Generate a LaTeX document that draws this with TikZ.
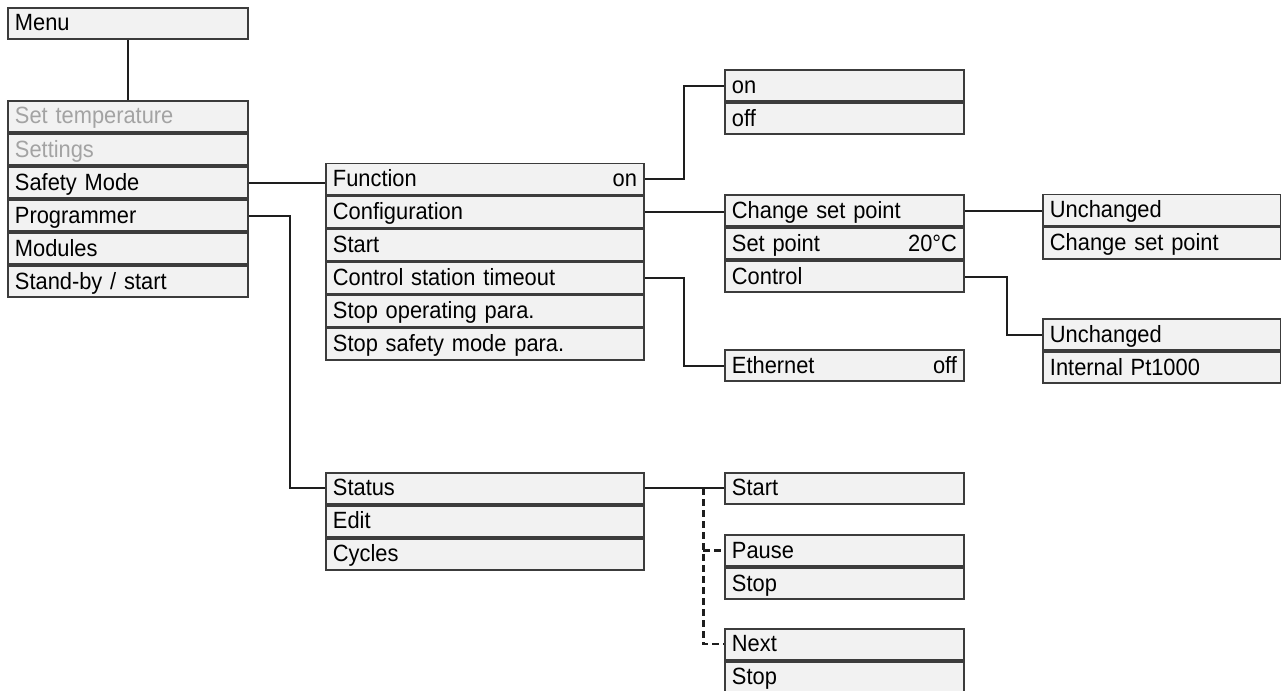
\documentclass[tikz,border=0pt]{standalone}
\usepackage{fontspec}
\setmainfont{Liberation Sans}[FakeStretch=0.93]
\usetikzlibrary{calc}
\definecolor{boxfill}{HTML}{F2F2F2}
\definecolor{boxline}{HTML}{3C3C3C}
\definecolor{dimtext}{HTML}{A3A3A3}
\definecolor{linkcol}{HTML}{1E1E1E}
\begin{document}
\begin{tikzpicture}[x=1pt,y=-1pt,
 row/.style={draw=boxline, line width=1.9pt, fill=boxfill, anchor=north west, inner xsep=7pt, inner ysep=0pt, minimum height=31.1pt, text height=18pt, text depth=3pt, align=left, font=\fontsize{23.5}{25}\selectfont},
 wA/.style={row, text width=226pt},
 wB/.style={row, text width=304pt},
 wC/.style={row, text width=225pt},
 wD/.style={row, text width=224pt},
 dim/.style={text=dimtext},
 link/.style={line width=2pt, linkcol},
 dlink/.style={link, line width=2.2pt, dash pattern=on 7pt off 4pt}]
\useasboundingbox (0,0) rectangle (1281,690);
% Menu
\node[wA] (menu) at (7,7) {Menu};
% Main menu
\node[wA, dim] (settemp) at (7,100) {Set temperature};
\node[wA, dim] (settings) at (settemp.south west) {Settings};
\node[wA] (safety) at (settings.south west) {Safety Mode};
\node[wA] (prog) at (safety.south west) {Programmer};
\node[wA] (modules) at (prog.south west) {Modules};
\node[wA] (standby) at (modules.south west) {Stand-by / start};
% Safety mode menu
\node[wB] (function) at (325,162.5) {Function\hfill on\hspace*{10pt}};
\node[wB] (config) at (function.south west) {Configuration};
\node[wB] (sstart) at (config.south west) {Start};
\node[wB] (timeout) at (sstart.south west) {Control station timeout};
\node[wB] (stopop) at (timeout.south west) {Stop operating para.};
\node[wB] (stopsafe) at (stopop.south west) {Stop safety mode para.};
% on / off
\node[wC] (on) at (724,69.3) {on};
\node[wC] (off) at (on.south west) {off};
% Configuration submenu
\node[wC] (csp) at (724,194) {Change set point};
\node[wC] (setpoint) at (csp.south west) {Set point\hfill 20°C\hspace*{5pt}};
\node[wC] (control) at (setpoint.south west) {Control};
% Ethernet
\node[wC] (eth) at (724,349.3) {Ethernet\hfill off\hspace*{17pt}};
% Change set point options
\node[wD] (unch1) at (1042,193.5) {Unchanged};
\node[wD] (chg) at (unch1.south west) {Change set point};
% Control options
\node[wD] (unch2) at (1042,318.3) {Unchanged};
\node[wD] (pt) at (unch2.south west) {Internal Pt1000};
% Programmer menu
\node[wB] (status) at (325,471.7) {Status};
\node[wB] (edit) at (status.south west) {Edit};
\node[wB] (cycles) at (edit.south west) {Cycles};
% Status options
\node[wC] (start) at (724,471.7) {Start};
\node[wC] (pause) at (724,534) {Pause};
\node[wC] (stop1) at (pause.south west) {Stop};
\node[wC] (next) at (724,627.7) {Next};
\node[wC] (stop2) at (next.south west) {Stop};
% Connectors
\draw[link] (menu.south) -- (settemp.north);
\draw[link] (safety.east) -- (safety.east -| function.west);
\draw[link] (prog.east) -- ++(41,0) |- (status.west);
\draw[link] (function.east) -- ++(39,0) |- (on.west);
\draw[link] (config.east) -- (config.east -| csp.west);
\draw[link] (timeout.east) -- ++(39,0) |- (eth.west);
\draw[link] (csp.east) -- (csp.east -| unch1.west);
\draw[link] (control.east) -- ++(42,0) |- (unch2.west);
\draw[link] (status.east) -- (start.west);
\coordinate (j) at ($(status.east)!0.74!(start.west)$);
\draw[dlink] (j) -- (j |- next.west) -- (next.west);
\draw[dlink] (j |- pause.west) -- (pause.west);
\end{tikzpicture}
\end{document}
